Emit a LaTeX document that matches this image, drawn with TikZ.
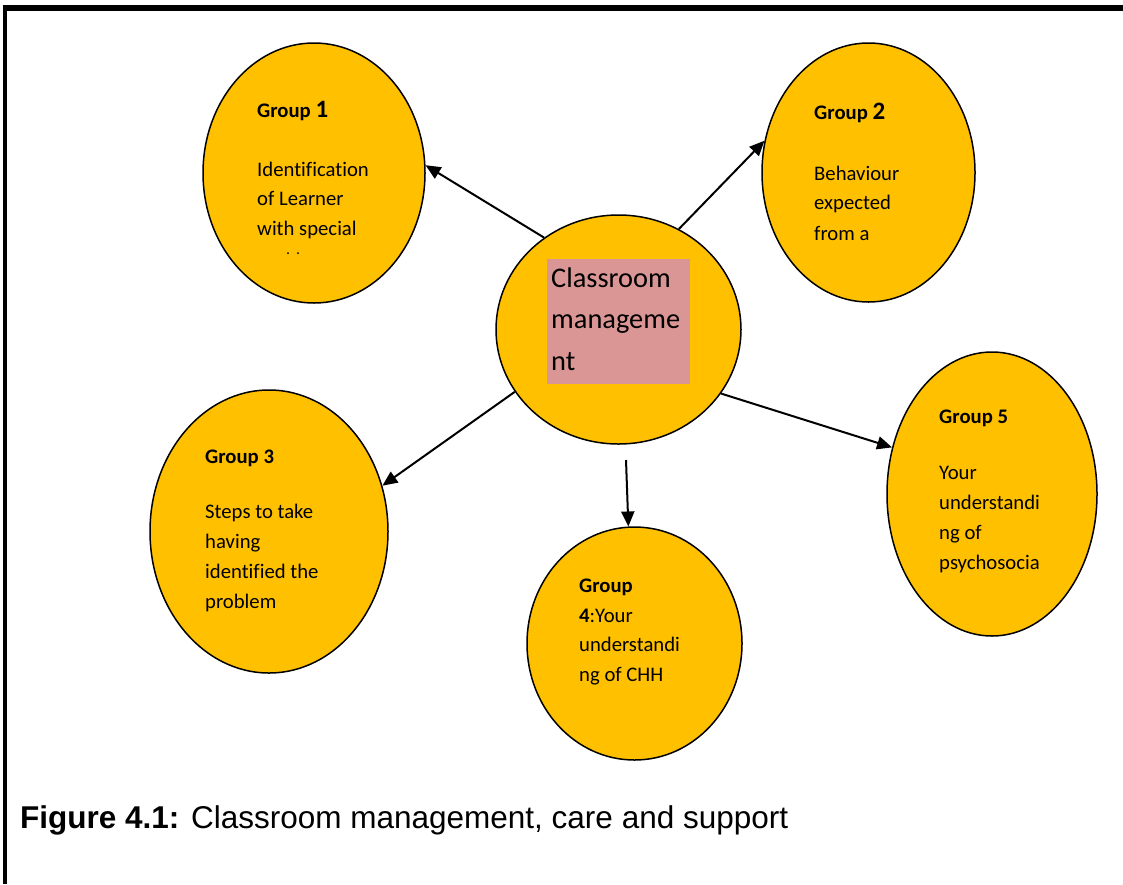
\documentclass[tikz,border=0pt]{standalone}
\usepackage{fontspec}
\setmainfont{Carlito}[Ligatures=NoCommon]
\newfontfamily\capfont{Liberation Sans}
\usetikzlibrary{arrows.meta,shapes.geometric}
\definecolor{gold}{HTML}{FFC000}
\definecolor{rosebox}{HTML}{D99694}
\tikzset{
  grp/.style={ellipse, draw=black, line width=1.5pt, fill=gold, inner sep=0pt},
  txt/.style={anchor=base west, inner sep=0pt, font=\fontsize{20.7}{24}\selectfont},
  ctxt/.style={anchor=base west, inner sep=0pt, font=\fontsize{28.4}{34}\selectfont},
  conn/.style={line width=2pt, -{Triangle[length=15pt,width=13pt]}},
  frame/.style={black},
}
\newcommand{\bignum}[1]{{\fontsize{25}{30}\selectfont #1}}
\begin{document}
\begin{tikzpicture}[x=1pt,y=-1pt]
\useasboundingbox (0,0) rectangle (1123,884);
% frame
\draw[frame, line width=4.5pt] (5,884) -- (5,6);
\draw[frame, line width=6pt] (2.75,8) -- (1123,8);

% ellipses
\node[grp, minimum width=222, minimum height=260] (g1) at (314,173) {};
\node[grp, minimum width=213, minimum height=259] (g2) at (868.5,172.5) {};
\node[grp, minimum width=245, minimum height=229] (c) at (618.5,329.5) {};
\node[grp, minimum width=238, minimum height=283] (g3) at (269,531.5) {};
\node[grp, minimum width=215, minimum height=233] (g4) at (634.5,643.5) {};
\node[grp, minimum width=210, minimum height=284] (g5) at (992,494) {};

% centre box
\node[fill=rosebox, minimum width=143, minimum height=125, inner sep=0pt, anchor=north west] (cbox) at (547,259) {};
\node[ctxt] (c1) at (551,287) {Classroom};
\node[ctxt] (c2) at (551,328) {manageme};
\node[ctxt] (c3) at (551,370) {nt};

% group 1
\node[txt] (g1h) at (257,117) {\textbf{Group \bignum{1}}};
\node[txt] (g1a) at (257,176) {Identification};
\node[txt] (g1b) at (257,205) {of Learner};
\node[txt] (g1c) at (257,235) {with special};
\fill (288,253) circle (1pt);
\fill (298,253) circle (1pt);

% group 2
\node[txt] (g2h) at (814,119) {\textbf{Group \bignum{2}}};
\node[txt] (g2a) at (814,180) {Behaviour};
\node[txt] (g2b) at (814,209) {expected};
\node[txt] (g2c) at (814,240) {from a};

% group 3
\node[txt] (g3h) at (205,463) {\textbf{Group 3}};
\node[txt] (g3a) at (205,518) {Steps to take};
\node[txt] (g3b) at (205,548) {having};
\node[txt] (g3c) at (205,578) {identified the};
\node[txt] (g3d) at (205,608) {problem};

% group 4
\node[txt] (g4h) at (579,592) {\textbf{Group}};
\node[txt] (g4a) at (579,622) {\textbf{4}:Your};
\node[txt] (g4b) at (579,651) {understandi};
\node[txt] (g4c) at (579,681) {ng of CHH};

% group 5
\node[txt] (g5h) at (939,423) {\textbf{Group 5}};
\node[txt] (g5a) at (939,479) {Your};
\node[txt] (g5b) at (939,509) {understandi};
\node[txt] (g5c) at (939,539) {ng of};
\node[txt] (g5d) at (939,569) {psychosocia};

% connectors
\coordinate (s4) at (626,460);
\draw[conn] (c.129.2) -- (g1.4.3);
\draw[conn] (c.59.8) -- (g2.163.6);
\draw[conn] (c.211.1) -- (g3.22.8);
\draw[conn] (s4) -- (g4.93.2);
\draw[conn] (c.328.2) -- (g5.155);

% caption
\node[anchor=base west, inner sep=0pt, font=\capfont\fontsize{31.5}{36}\selectfont] (cap) at (20,828) {\textbf{Figure 4.1:} Classroom management, care and support};
\end{tikzpicture}
\end{document}
